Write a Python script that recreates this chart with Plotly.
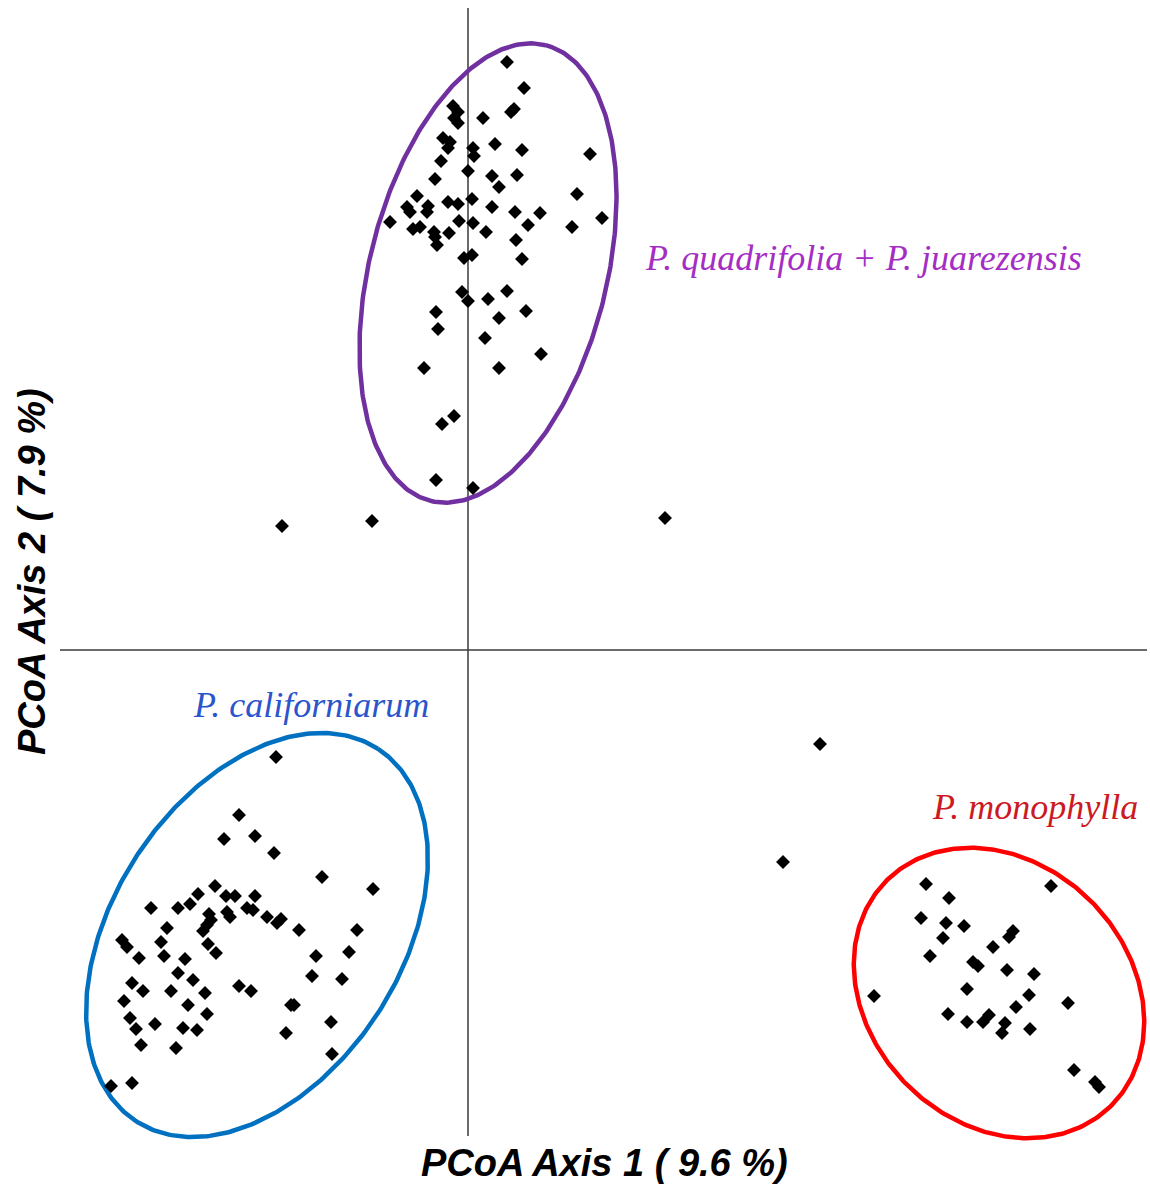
import numpy as np
import plotly.graph_objects as go

# PCoA scores (axis 1, axis 2) per group
quad_x = [0.39, 0.56, 0.46, 0.43, -0.15, -0.10, -0.14, -0.10, 0.15, -0.25, -0.18, -0.20,
          0.05, 0.06, 0.27, 0.54, 1.22, -0.27, 0.00, -0.33, 0.24, 0.49, 0.31, -0.51,
          1.09, -0.61, -0.58, -0.40, -0.41, -0.20, -0.10, 0.04, 0.24, 0.47, 0.72, 1.34,
          -0.78, -0.09, 0.05, 0.60, 1.04, -0.55, -0.48, -0.34, -0.33, -0.31, -0.19, 0.18,
          0.48, -0.04, 0.04, 0.54, -0.06, 0.00, 0.20, 0.39, 0.58, -0.32, 0.31, -0.30,
          0.17, 0.73, -0.44, 0.31, -0.14, -0.26, -0.32, 0.05]
quad_y = [5.88, 5.62, 5.41, 5.38, 5.44, 5.38, 5.32, 5.27, 5.32, 5.12, 5.08, 5.02,
          5.02, 4.94, 5.06, 5.00, 4.96, 4.89, 4.79, 4.71, 4.74, 4.75, 4.63, 4.54,
          4.56, 4.43, 4.38, 4.44, 4.38, 4.48, 4.46, 4.51, 4.43, 4.38, 4.37, 4.32,
          4.28, 4.29, 4.27, 4.25, 4.23, 4.21, 4.23, 4.18, 4.13, 4.05, 4.17, 4.18,
          4.10, 3.92, 3.95, 3.91, 3.58, 3.49, 3.51, 3.59, 3.39, 3.38, 3.32, 3.21,
          3.12, 2.96, 2.82, 2.82, 2.34, 2.26, 1.70, 1.62]

cal_x = [-1.92, -2.29, -2.44, -2.13, -1.94, -1.46, -0.95, -2.53, -2.70, -2.42, -2.33, -2.13,
         -3.17, -2.90, -2.78, -2.21, -2.15, -2.59, -2.57, -2.61, -2.65, -2.41, -2.38, -2.01,
         -1.91, -1.87, -3.01, -1.69, -1.11, -3.46, -3.41, -3.07, -2.60, -2.52, -3.04, -3.29,
         -2.83, -1.52, -1.19, -2.90, -2.75, -3.36, -3.25, -2.97, -2.63, -2.29, -2.17, -1.56,
         -1.26, -3.44, -2.80, -1.77, -1.74, -2.61, -3.38, -3.13, -3.32, -2.85, -2.71, -1.37,
         -1.82, -3.27, -2.92, -1.36, -3.57, -3.36]
cal_y = [-1.07, -1.65, -1.89, -1.86, -2.03, -2.27, -2.39, -2.36, -2.44, -2.46, -2.46, -2.46,
         -2.58, -2.58, -2.54, -2.58, -2.60, -2.64, -2.70, -2.75, -2.81, -2.62, -2.67, -2.67,
         -2.73, -2.69, -2.78, -2.80, -2.80, -2.90, -2.97, -2.92, -2.94, -3.03, -3.06, -3.08,
         -3.09, -3.06, -3.02, -3.23, -3.30, -3.33, -3.41, -3.41, -3.43, -3.36, -3.41, -3.26,
         -3.29, -3.51, -3.55, -3.55, -3.55, -3.64, -3.68, -3.74, -3.79, -3.78, -3.80, -3.72,
         -3.83, -3.95, -3.98, -4.04, -4.36, -4.33]

mono_x = [4.58, 5.83, 4.81, 4.53, 4.78, 4.96, 5.45, 5.41, 4.75, 5.25, 4.62, 5.05,
          5.10, 5.39, 5.66, 4.99, 5.61, 4.06, 6.00, 5.48, 4.80, 4.99, 5.15, 5.21,
          5.37, 5.34, 5.62, 6.06, 6.27, 6.31]
mono_y = [-2.34, -2.36, -2.48, -2.68, -2.73, -2.76, -2.81, -2.87, -2.88, -2.97, -3.06, -3.12,
          -3.16, -3.20, -3.24, -3.39, -3.45, -3.46, -3.53, -3.57, -3.64, -3.72, -3.72, -3.65,
          -3.73, -3.83, -3.79, -4.20, -4.32, -4.37]

other_x = [-1.86, -0.96, 1.97, 3.52, 3.15]
other_y = [1.24, 1.29, 1.32, -0.94, -2.12]

# Confidence ellipses: centre, semi-axes, rotation (deg), colour
ellipse_specs = [
    ((0.20, 3.77), 2.35, 1.185, 75.8, "#7030A0"),
    ((-2.11, -2.85), 2.22, 1.44, 57.0, "#0070C0"),
    ((5.31, -3.43), 1.59, 1.30, -45.0, "#FF0000"),
]

group_labels = ["P. quadrifolia + P. juarezensis", "P. californiarum", "P. monophylla"]
label_pos = [(3.955, 3.92), (-1.57, -0.55), (5.67, -1.57)]
label_colors = ["#A42EC4", "#2A55CC", "#CC1A22"]

fig = go.Figure()

# Axis lines through the origin
fig.add_trace(go.Scatter(x=[-4.08, 6.79], y=[0, 0], mode="lines",
                         line=dict(color="#3a3a3a", width=1.5), hoverinfo="skip"))
fig.add_trace(go.Scatter(x=[0, 0], y=[6.42, -4.86], mode="lines",
                         line=dict(color="#3a3a3a", width=1.5), hoverinfo="skip"))

t = np.linspace(0, 2 * np.pi, 361)
for (cx, cy), a, b, ang, col in ellipse_specs:
    th = np.deg2rad(ang)
    ex = cx + a * np.cos(t) * np.cos(th) - b * np.sin(t) * np.sin(th)
    ey = cy + a * np.cos(t) * np.sin(th) + b * np.sin(t) * np.cos(th)
    fig.add_trace(go.Scatter(x=ex, y=ey, mode="lines",
                             line=dict(color=col, width=4.5), hoverinfo="skip"))

all_x = quad_x + cal_x + mono_x + other_x
all_y = quad_y + cal_y + mono_y + other_y
fig.add_trace(go.Scatter(x=all_x, y=all_y, mode="markers",
                         marker=dict(symbol="diamond", size=8.5, color="black",
                                     line=dict(color="black", width=2))))

for txt, (lx, ly), col in zip(group_labels, label_pos, label_colors):
    fig.add_annotation(x=lx, y=ly, text=txt, showarrow=False,
                       font=dict(family="Liberation Serif", size=36, color=col, style="italic"))

fig.add_annotation(x=1.36, y=-5.13, text="PCoA Axis 1 ( 9.6 %)", showarrow=False,
                   font=dict(family="Liberation Sans", size=38, color="black",
                             weight="bold", style="italic"))
fig.add_annotation(x=-4.36, y=0.78, text="PCoA Axis 2 ( 7.9 %)", showarrow=False, textangle=-90,
                   font=dict(family="Liberation Sans", size=38, color="black",
                             weight="bold", style="italic"))

fig.update_layout(
    width=1150, height=1190,
    margin=dict(l=0, r=0, t=0, b=0),
    paper_bgcolor="white", plot_bgcolor="white",
    showlegend=False,
    xaxis=dict(range=[-4.68, 6.82], visible=False),
    yaxis=dict(range=[-5.40, 6.50], visible=False),
)

fig.write_html("out.html")
